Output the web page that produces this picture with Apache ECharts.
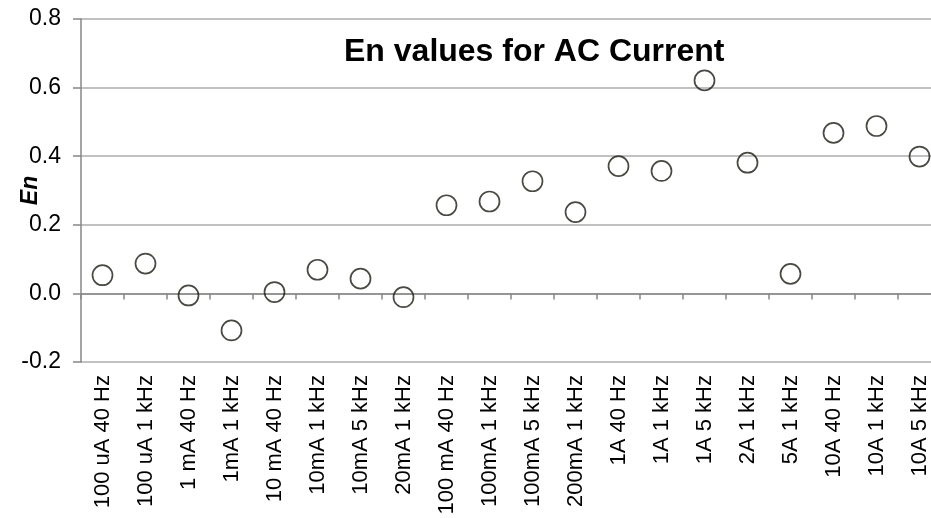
<!DOCTYPE html>
<html>
<head>
<meta charset="utf-8">
<title>En values for AC Current</title>
<script src="https://cdn.jsdelivr.net/npm/echarts@6/dist/echarts.min.js"></script>
<style>
  html, body { margin: 0; padding: 0; background: #fff; }
</style>
</head>
<body>
<div id="main" style="width:931px;height:518px;"></div>
<script type="text/javascript">
// categories and En values
var categories = [
  '100 uA 40 Hz', '100 uA 1 kHz', '1 mA 40 Hz', '1mA 1 kHz', '10 mA 40 Hz',
  '10mA 1 kHz', '10mA 5 kHz', '20mA 1 kHz', '100 mA 40 Hz', '100mA 1 kHz',
  '100mA 5 kHz', '200mA 1 kHz', '1A 40 Hz', '1A 1 kHz', '1A 5 kHz',
  '2A 1 kHz', '5A 1 kHz', '10A 40 Hz', '10A 1 kHz', '10A 5 kHz'
];
var enValues = [
  0.053, 0.087, -0.006, -0.108, 0.004,
  0.069, 0.043, -0.011, 0.257, 0.268,
  0.327, 0.237, 0.371, 0.357, 0.621,
  0.381, 0.057, 0.468, 0.488, 0.399
];
var yMin = -0.2, yMax = 0.8, yStep = 0.2;

var font = 'Liberation Sans, Arial, sans-serif';
var chart = echarts.init(document.getElementById('main'));

var option = {
  animation: false,
  title: {
    text: 'En values for AC Current',
    left: 339,
    top: 31,
    textStyle: { fontFamily: font, fontSize: 32, fontWeight: 'bold', color: '#000' }
  },
  grid: { left: 81, top: 19, right: -10, bottom: 156, containLabel: false, outerBoundsMode: 'none' },
  xAxis: [
    {
      // labels at the bottom
      type: 'category',
      data: categories,
      position: 'bottom',
      axisLine: { show: false, onZero: false },
      axisTick: { show: false },
      splitLine: { show: false },
      axisLabel: {
        interval: 0,
        rotate: 90,
        margin: 13,
        fontFamily: font,
        fontSize: 22,
        color: '#000'
      }
    },
    {
      // axis line with ticks sitting on zero
      type: 'category',
      data: categories,
      position: 'bottom',
      axisLine: { show: true, onZero: true, lineStyle: { color: '#878787', width: 1.5 } },
      axisTick: { show: true, interval: 0, length: 6, lineStyle: { color: '#878787', width: 1.5 } },
      axisLabel: { show: false },
      splitLine: { show: false }
    }
  ],
  yAxis: {
    type: 'value',
    min: yMin,
    max: yMax,
    interval: yStep,
    name: 'En',
    nameLocation: 'middle',
    nameGap: 39,
    nameMoveOverlap: false,
    nameTextStyle: { fontFamily: font, fontSize: 23, fontWeight: 'bold', fontStyle: 'italic', color: '#000' },
    axisLine: { show: true, lineStyle: { color: '#878787', width: 1.5 } },
    axisTick: { show: true, length: 8, lineStyle: { color: '#878787', width: 1.5 } },
    splitLine: { show: true, lineStyle: { color: '#adadad', width: 1.5 } },
    axisLabel: {
      margin: 20,
      fontFamily: font,
      fontSize: 23,
      color: '#000',
      formatter: function (v) { return v.toFixed(1); }
    }
  },
  series: [
    {
      name: 'En',
      type: 'scatter',
      xAxisIndex: 0,
      yAxisIndex: 0,
      data: enValues,
      symbol: 'circle',
      symbolSize: 20,
      itemStyle: { color: 'rgba(255,255,255,0)', borderColor: '#1c1c14', borderWidth: 1.7 }
    }
  ]
};

chart.setOption(option);
</script>
</body>
</html>
